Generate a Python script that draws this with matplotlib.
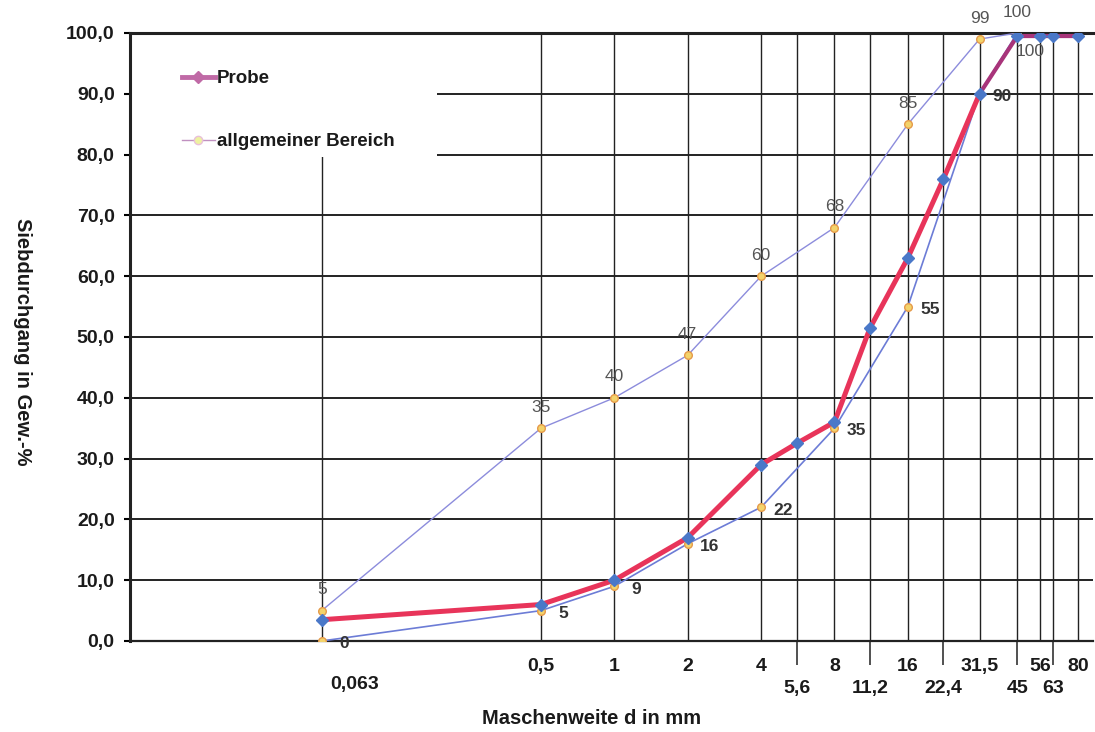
import matplotlib
matplotlib.use("Agg")
import matplotlib.pyplot as plt
from matplotlib.lines import Line2D
from matplotlib.patches import Rectangle
from matplotlib.ticker import FuncFormatter

plt.rcParams['font.family'] = ['Liberation Sans', 'DejaVu Sans']

# DATA
sieve = [0.063, 0.5, 1, 2, 4, 5.6, 8, 11.2, 16, 22.4, 31.5, 45, 56, 63, 80]
probe = [3.5, 6, 10, 17, 29, 32.5, 36, 51.5, 63, 76, 90, 99.5, 99.5, 99.5, 99.5]

band_x = [0.063, 0.5, 1, 2, 4, 8, 16, 31.5, 45]
band_upper = [5, 35, 40, 47, 60, 68, 85, 99, 100]
band_lower = [0, 5, 9, 16, 22, 35, 55, 90, 100]

top_row = [0.5, 1, 2, 4, 8, 16, 31.5, 56, 80]
top_labels = ["0,5", "1", "2", "4", "8", "16", "31,5", "56", "80"]
low_row = [5.6, 11.2, 22.4, 45, 63]
low_labels = ["5,6", "11,2", "22,4", "45", "63"]

fig = plt.figure(figsize=(10.95, 7.32), dpi=100)
ax = fig.add_axes([130 / 1095, 1 - 641 / 732, 963 / 1095, 608 / 732])

ax.set_xscale("log")
ax.set_xlim(0.0103, 92)
ax.set_ylim(0, 100)

# GRID
ax.set_yticks(range(0, 101, 10))
ax.yaxis.set_major_formatter(FuncFormatter(lambda v, p: f"{v:.1f}".replace(".", ",")))
ax.set_xticks([0.063] + top_row)
ax.set_xticklabels([""] + top_labels)
ax.set_xticks(low_row, minor=True)
ax.set_xticklabels(low_labels, minor=True)
ax.tick_params(axis="x", which="major", length=0, pad=12, labelsize=14)
ax.tick_params(axis="x", which="minor", length=17, width=1.1, color="#222222", pad=11, labelsize=14)
ax.tick_params(axis="y", length=4, width=1.5, pad=7, labelsize=14)
for t in ax.get_xticklabels(which="both") + ax.get_yticklabels():
    t.set_fontweight("bold")
    t.set_color("#1a1a1a")

ax.set_axisbelow(True)
ax.grid(True, which="major", axis="y", color="#222222", lw=1.4)
ax.grid(True, which="both", axis="x", color="#222222", lw=1.0)

for s in ["left", "top"]:
    ax.spines[s].set_linewidth(2.2)
    ax.spines[s].set_color("#222222")
ax.spines["bottom"].set_linewidth(1.6)
ax.spines["bottom"].set_color("#222222")
ax.spines["right"].set_visible(False)

ax.annotate("0,063", xy=(0.063, 0), xycoords=("data", "axes fraction"), xytext=(24, -31),
            textcoords="offset points", ha="center", va="center", fontsize=14,
            fontweight="bold", color="#1a1a1a", annotation_clip=False)

# white area behind legend
ax.add_patch(Rectangle((0, 0.796), 0.319, 0.204, transform=ax.transAxes,
                       facecolor="white", edgecolor="none", zorder=1))

# LINES
ax.plot(band_x, band_upper, color="#8c8cdc", lw=1.0, zorder=3)
ax.plot(band_x, band_lower, color="#6c7cd6", lw=1.2, zorder=3)
ax.plot(sieve[:11], probe[:11], color="#e8345a", lw=3.6, zorder=4, solid_capstyle="round")
ax.plot(sieve[10:], probe[10:], color="#a8347a", lw=3.0, zorder=4)
ax.plot(band_x, band_upper, ls="none", marker="o", ms=5.5, mfc="#f3d36b", mec="#e59a4a", mew=1.0, zorder=5)
ax.plot(band_x, band_lower, ls="none", marker="o", ms=5.5, mfc="#f3d36b", mec="#e59a4a", mew=1.0, zorder=5)
ax.plot(sieve, probe, ls="none", marker="D", ms=6, color="#4a78c8", zorder=6)

# DATA LABELS
for x, v in zip(band_x, band_upper):
    ax.annotate(str(v), (x, v), xytext=(0, 15), textcoords="offset points",
                ha="center", va="center", fontsize=12.5, color="#555555", zorder=7,
                annotation_clip=False)
for x, v in zip(band_x[:-1], band_lower[:-1]):
    ax.annotate(str(v), (x, v), xytext=(16, -2), textcoords="offset points",
                ha="center", va="center", fontsize=12.5, fontweight="bold", color="#333333", zorder=7)
ax.annotate(str(band_lower[-1]), (band_x[-1], band_lower[-1]), xytext=(9, -13),
            textcoords="offset points", ha="center", va="center", fontsize=12.5,
            color="#555555", zorder=7)

# AXIS LABELS
fig.text(22 / 1095, 1 - 342 / 732, "Siebdurchgang in Gew.-%", rotation=270, ha="center",
         va="center", fontsize=14.5, fontweight="bold", color="#1a1a1a")
fig.text(592 / 1095, 1 - 718 / 732, "Maschenweite d in mm", ha="center", va="center",
         fontsize=14.5, fontweight="bold", color="#1a1a1a")

# LEGEND
handles = [
    Line2D([], [], color="#c06aa6", lw=3.5, marker="D", ms=6, mfc="#c06aa6", mec="#c06aa6"),
    Line2D([], [], color="#c090c0", lw=1.0, marker="o", ms=6, mfc="#eef2a0", mec="#e8c0d8"),
]
leg = ax.legend(handles, ["Probe", "allgemeiner Bereich"], loc="upper left",
                bbox_to_anchor=(0.036, 0.967), frameon=False, labelspacing=2.45,
                handlelength=1.8, handletextpad=0.1, prop={"weight": "bold", "size": 13.5})
for t in leg.get_texts():
    t.set_color("#1a1a1a")

fig.savefig("out.png", dpi=100)
